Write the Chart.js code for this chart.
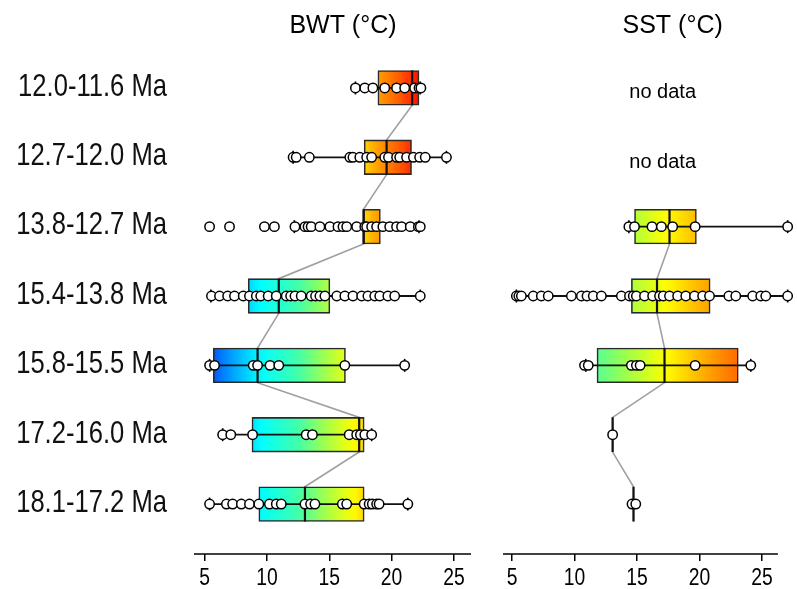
<!DOCTYPE html>
<html>
<head>
<meta charset="utf-8">
<title>BWT / SST box plots</title>
<script src="https://cdn.jsdelivr.net/npm/chart.js@4.4.0/dist/chart.umd.min.js"></script>
<style>
  html, body { margin: 0; padding: 0; background: #fff; }
  #wrap { position: relative; width: 797px; height: 589px; overflow: hidden; }
  #bwt-chart { position: absolute; left: 0; top: 0; }
  #sst-chart { position: absolute; left: 487px; top: 0; }
</style>
</head>
<body>
<div id="wrap">
  <canvas id="bwt-chart" width="487" height="589"></canvas>
  <canvas id="sst-chart" width="310" height="589"></canvas>
</div>
<script>
/* ===============================================
   Bottom water (BWT) and sea surface (SST) temperatures
   per time slice, box plots with single samples on top
   =============================================== */

// ── Data ──

var PERIODS = ['12.0-11.6 Ma', '12.7-12.0 Ma', '13.8-12.7 Ma', '15.4-13.8 Ma',
               '15.8-15.5 Ma', '17.2-16.0 Ma', '18.1-17.2 Ma'];
var X_TICKS = [5, 10, 15, 20, 25];

// BWT box statistics (°C), one entry per period
var BWT_Q1  = [18.9, 17.8, 17.75, 8.5, 5.7, 8.8, 9.35];
var BWT_MED = [21.65, 19.6, 17.75, 10.95, 9.25, 17.4, 13.05];
var BWT_Q3  = [22.2, 21.6, 19.1, 15.05, 16.3, 17.8, 17.8];
var BWT_LO  = [17.1, 12.1, 12.2, 5.5, 5.4, 6.45, 5.4];
var BWT_HI  = [22.3, 24.4, 22.2, 22.3, 21.05, 18.4, 21.3];

// BWT single samples
var BWT_PTS_0 = [17.1, 17.85, 18.5, 19.45, 20.4, 21.05, 21.85, 22.2, 22.35];
var BWT_PTS_1 = [12.1, 12.35, 13.4, 16.65, 16.9, 17.45, 18.0, 18.4, 19.45, 19.75, 20.4,
                 20.65, 21.2, 21.75, 22.25, 22.7, 24.4];
var BWT_PTS_2 = [5.4, 7.0, 9.8, 10.6, 12.25, 13.05, 13.3, 13.55, 14.25, 15.05, 15.7, 16.1,
                 16.4, 17.2, 17.85, 18.0, 18.4, 18.8, 19.3, 19.85, 20.4, 20.8, 21.5, 22.15, 22.3];
var BWT_PTS_3 = [5.55, 6.2, 6.85, 7.4, 8.1, 8.6, 9.15, 9.5, 10.1, 10.75, 11.55, 11.9, 12.25,
                 12.75, 13.55, 13.9, 14.25, 14.65, 15.6, 16.25, 16.9, 17.6, 18.1, 18.65, 19.05,
                 19.7, 20.25, 22.3];
var BWT_PTS_4 = [5.4, 5.8, 8.9, 9.25, 10.25, 10.95, 16.25, 21.05];
var BWT_PTS_5 = [6.45, 7.1, 8.85, 13.15, 13.65, 16.6, 17.2, 17.5, 17.85, 18.4];
var BWT_PTS_6 = [5.4, 6.75, 7.25, 7.95, 8.6, 9.35, 10.2, 10.75, 11.15, 13.05, 13.5, 13.85,
                 16.05, 16.4, 17.8, 18.2, 18.45, 18.8, 19.0, 21.3];

// SST box statistics (°C), null = no data
var SST_Q1  = [null, null, 14.8, 14.55, 11.8, 13.05, 14.72];
var SST_MED = [null, null, 17.6, 16.6, 17.2, 13.05, 14.72];
var SST_Q3  = [null, null, 19.75, 20.85, 23.1, 13.05, 14.72];
var SST_LO  = [null, null, 14.35, 5.35, 10.9, 13.05, 14.72];
var SST_HI  = [null, null, 27.05, 27.05, 24.1, 13.05, 14.72];

// SST single samples
var SST_PTS_0 = [];
var SST_PTS_1 = [];
var SST_PTS_2 = [14.35, 14.8, 16.2, 16.95, 17.85, 19.65, 27.05];
var SST_PTS_3 = [5.35, 5.55, 5.75, 6.7, 7.35, 7.9, 9.75, 10.55, 11.0, 11.5, 12.15, 13.75, 14.4,
                 14.7, 14.95, 15.6, 16.25, 16.8, 17.1, 17.6, 18.25, 18.9, 19.6, 20.25, 20.8,
                 22.35, 22.9, 24.25, 24.9, 25.3, 27.05];
var SST_PTS_4 = [10.8, 11.1, 14.55, 14.95, 15.25, 19.65, 24.1];
var SST_PTS_5 = [13.05];
var SST_PTS_6 = [14.6, 14.9];

// ── Styling ──

var FONT = '"Liberation Sans", Arial, Helvetica, sans-serif';
var HALF = 0.25;               // half box height, in row units (bar = 0.5 of a row)

// colour ramps used inside the boxes (value -> colour)
var BWT_STOPS  = [5, 7, 9.5, 12.5, 15, 17, 18.5, 20.5, 22.5];
var BWT_COLORS = ['#0033ff', '#0099ff', '#00ffff', '#40ffaa', '#b0ff40', '#ffff00',
                  '#ffb000', '#ff6000', '#ff0000'];
var SST_STOPS  = [11, 14.5, 17.3, 20.5, 23.5, 27];
var SST_COLORS = ['#40ffaa', '#a8ff40', '#ffff00', '#ffa800', '#ff6000', '#ff0000'];

(function() {
  'use strict';

  function hexToRgb(hex) {
    return [parseInt(hex.slice(1, 3), 16), parseInt(hex.slice(3, 5), 16), parseInt(hex.slice(5, 7), 16)];
  }

  function colorAt(v, stops, colors) {
    if (v <= stops[0]) return colors[0];
    if (v >= stops[stops.length - 1]) return colors[colors.length - 1];
    for (var i = 1; i < stops.length; i++) {
      if (v <= stops[i]) {
        var t = (v - stops[i - 1]) / (stops[i] - stops[i - 1]);
        var a = hexToRgb(colors[i - 1]);
        var b = hexToRgb(colors[i]);
        var c = [0, 1, 2].map(function(k) { return Math.round(a[k] + (b[k] - a[k]) * t); });
        return 'rgb(' + c[0] + ',' + c[1] + ',' + c[2] + ')';
      }
    }
    return colors[colors.length - 1];
  }

  function gradientFill(stops, colors) {
    return function(ctx) {
      if (ctx.type !== 'data' || !ctx.raw || !ctx.chart.chartArea) return colors[0];
      var xs = ctx.chart.scales.x;
      var lo = ctx.raw.x[0], hi = ctx.raw.x[1];
      var x0 = xs.getPixelForValue(lo);
      var x1 = xs.getPixelForValue(hi);
      if (!isFinite(x0) || !isFinite(x1) || x1 === x0) return colorAt((lo + hi) / 2, stops, colors);
      var g = ctx.chart.ctx.createLinearGradient(x0, 0, x1, 0);
      for (var k = 0; k <= 12; k++) {
        g.addColorStop(k / 12, colorAt(lo + (hi - lo) * k / 12, stops, colors));
      }
      return g;
    };
  }

  // box height follows the row spacing of the y scale
  function boxThickness(ctx) {
    var ys = ctx.chart.scales.y;
    if (!ys || !ctx.chart.chartArea) return 30;
    return Math.abs(ys.getPixelForValue(HALF) - ys.getPixelForValue(-HALF));
  }

  // ── Datasets for one panel ──

  function buildDatasets(p) {
    var boxes = [], medians = [], link = [], whiskers = [], caps = [], points = [];

    for (var i = 0; i < PERIODS.length; i++) {
      if (p.med[i] === null) continue;

      if (p.q3[i] > p.q1[i]) boxes.push({ x: [p.q1[i], p.q3[i]], y: i });

      medians.push({ x: p.med[i], y: i - HALF }, { x: p.med[i], y: i + HALF }, { x: p.med[i], y: null });
      link.push({ x: p.med[i], y: i - HALF }, { x: p.med[i], y: i + HALF });

      if (p.hi[i] > p.lo[i]) {
        whiskers.push({ x: p.lo[i], y: i }, { x: p.hi[i], y: i }, { x: p.hi[i], y: null });
        caps.push({ x: p.lo[i], y: i }, { x: p.hi[i], y: i });
      }
    }

    for (var r = 0; r < p.pts.length; r++) {
      for (var j = 0; j < p.pts[r].length; j++) points.push({ x: p.pts[r][j], y: r });
    }

    return [
      { type: 'scatter', data: points, order: 0, clip: false,
        pointRadius: 4.7, pointBackgroundColor: '#ffffff', pointBorderColor: '#000000',
        pointBorderWidth: 1.5 },
      { type: 'line', data: medians, order: 1, borderColor: '#111111', borderWidth: 2.2,
        pointRadius: 0, spanGaps: false, tension: 0 },
      { type: 'scatter', data: caps, order: 2, clip: false, pointStyle: 'line', rotation: 90,
        pointRadius: 6.5, pointBorderColor: '#000000', pointBorderWidth: 1.6 },
      { type: 'line', data: whiskers, order: 3, borderColor: '#111111', borderWidth: 1.8,
        pointRadius: 0, spanGaps: false, tension: 0, clip: false },
      { type: 'bar', data: boxes, order: 4, indexAxis: 'y', grouped: false,
        barThickness: boxThickness,
        backgroundColor: gradientFill(p.stops, p.colors),
        borderColor: '#2a2a2a', borderWidth: 1.6, borderSkipped: false },
      { type: 'line', data: link, order: 5, borderColor: '#a0a0a0', borderWidth: 1.6,
        pointRadius: 0, tension: 0 }
    ];
  }

  // ── Axis line, tick labels, titles, period labels and "no data" notes ──

  var panelText = {
    id: 'panelText',
    afterDraw: function(chart, args, opts) {
      var c = chart.ctx, area = chart.chartArea;
      var ys = chart.scales.y, xs = chart.scales.x;
      c.save();

      // x axis line stops a little past the last tick, as in the original
      c.strokeStyle = '#000';
      c.lineWidth = 1.6;
      c.beginPath();
      c.moveTo(area.left, area.bottom);
      c.lineTo(xs.getPixelForValue(opts.axisEnd), area.bottom);
      c.stroke();

      c.fillStyle = '#000';
      c.textAlign = 'center';
      c.textBaseline = 'middle';

      // tick labels in narrow lettering
      c.font = '23px ' + FONT;
      for (var t = 0; t < X_TICKS.length; t++) {
        c.save();
        c.translate(xs.getPixelForValue(X_TICKS[t]), area.bottom + 25);
        c.scale(0.84, 1);
        c.fillText(String(X_TICKS[t]), 0, 0);
        c.restore();
      }

      c.font = '25px ' + FONT;
      c.fillText(opts.title, xs.getPixelForValue(opts.titleAt), 26);

      // period labels, narrow lettering as in the original
      if (opts.labels) {
        c.font = '32px ' + FONT;
        c.textAlign = 'right';
        c.fillStyle = '#111';
        for (var i = 0; i < PERIODS.length; i++) {
          c.save();
          c.translate(area.left - 27, ys.getPixelForValue(i) - 1);
          c.scale(0.8, 1);
          c.fillText(PERIODS[i], 0, 0);
          c.restore();
        }
      }

      c.font = '20px ' + FONT;
      c.textAlign = 'center';
      c.fillStyle = '#000';
      for (var k = 0; k < opts.med.length; k++) {
        if (opts.med[k] !== null) continue;
        c.fillText('no data', xs.getPixelForValue(opts.noteAt), ys.getPixelForValue(k) + 5);
      }
      c.restore();
    }
  };

  // ── Chart factory ──

  function makeChart(id, p) {
    return new Chart(document.getElementById(id), {
      type: 'bar',
      data: { datasets: buildDatasets(p) },
      plugins: [panelText],
      options: {
        responsive: false,
        animation: false,
        events: [],
        devicePixelRatio: 1,
        layout: { padding: { left: p.padLeft, right: p.padRight, top: 38, bottom: 0 } },
        plugins: {
          legend: { display: false },
          tooltip: { enabled: false },
          panelText: { title: p.title, titleAt: p.titleAt, axisEnd: p.axisEnd,
                       labels: p.showLabels, med: p.med, noteAt: 17.05 }
        },
        scales: {
          x: {
            type: 'linear',
            offset: false,
            min: p.xmin,
            max: p.xmax,
            afterBuildTicks: function(s) {
              s.ticks = X_TICKS.map(function(v) { return { value: v }; });
            },
            afterFit: function(s) { s.height = 35; },
            grid: { display: true, offset: false, drawOnChartArea: false, drawTicks: true,
                    tickLength: 7, color: '#000', lineWidth: 1.5 },
            border: { display: false },
            ticks: { display: false }
          },
          y: {
            type: 'linear',
            reverse: true,
            offset: false,
            min: -0.72,
            max: 6.72,
            display: false,
            afterBuildTicks: function(s) {
              s.ticks = PERIODS.map(function(_, i) { return { value: i }; });
            }
          }
        }
      }
    });
  }

  // ── Init ──

  makeChart('bwt-chart', {
    title: 'BWT (°C)', titleAt: 16.1, showLabels: true, padLeft: 194, padRight: 16,
    xmin: 4.15, xmax: 26.37, axisEnd: 26.37,
    q1: BWT_Q1, med: BWT_MED, q3: BWT_Q3, lo: BWT_LO, hi: BWT_HI,
    pts: [BWT_PTS_0, BWT_PTS_1, BWT_PTS_2, BWT_PTS_3, BWT_PTS_4, BWT_PTS_5, BWT_PTS_6],
    stops: BWT_STOPS, colors: BWT_COLORS
  });

  makeChart('sst-chart', {
    title: 'SST (°C)', titleAt: 17.85, showLabels: false, padLeft: 16, padRight: 7,
    xmin: 4.28, xmax: 27.15, axisEnd: 26.27,
    q1: SST_Q1, med: SST_MED, q3: SST_Q3, lo: SST_LO, hi: SST_HI,
    pts: [SST_PTS_0, SST_PTS_1, SST_PTS_2, SST_PTS_3, SST_PTS_4, SST_PTS_5, SST_PTS_6],
    stops: SST_STOPS, colors: SST_COLORS
  });

})();
</script>
</body>
</html>
